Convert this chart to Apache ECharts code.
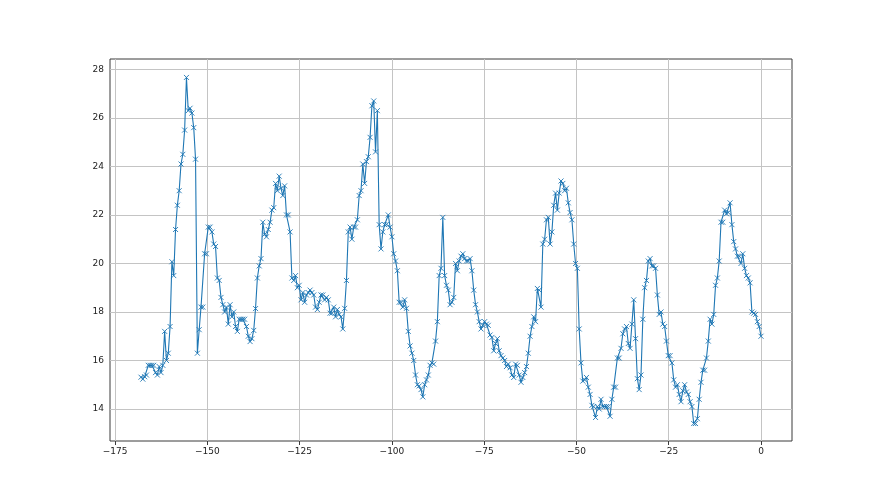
<!DOCTYPE html>
<html>
<head>
<meta charset="utf-8">
<script src="https://cdn.jsdelivr.net/npm/echarts@6/dist/echarts.min.js"></script>
<style>
html,body{margin:0;padding:0;background:#ffffff;}
#chart{width:880px;height:495px;}
</style>
</head>
<body>
<div id="chart"></div>
<script>
// Readings (hours relative to now, from -168 to 0)
const readingsA = [15.31, 15.23, 15.33, 15.4, 15.8, 15.8, 15.8, 15.8, 15.5, 15.4, 15.75, 15.5, 15.8, 17.2, 16.0, 16.3, 17.4, 20.07, 19.5, 21.4, 22.4, 23.0, 24.1, 24.5, 25.5, 27.67, 26.3, 26.4, 26.2, 25.6, 24.3, 16.3, 17.27, 18.2, 18.2, 20.4, 20.4, 21.5, 21.5, 21.3, 20.8, 20.7, 19.4, 19.3, 18.6, 18.3, 18.0, 18.2, 17.5, 18.3, 17.8, 18.0, 17.4, 17.2, 17.7, 17.7, 17.7];
const readingsB = [17.70, 17.4, 17.0, 16.78, 16.9, 17.24, 18.14, 19.4, 19.9, 20.2, 21.7, 21.2, 21.1, 21.4, 21.7, 22.2, 22.3, 23.3, 23.0, 23.6, 23.1, 22.8, 23.2, 22.0, 22.0, 21.3, 19.4, 19.3, 19.5, 19.0, 19.1, 18.5, 18.8, 18.4, 18.7, 18.8, 18.9, 18.8, 18.7, 18.2, 18.1, 18.4, 18.7, 18.7, 18.5, 18.6, 18.5, 17.95, 17.95, 18.2, 17.8, 18.1, 17.9, 17.8, 17.3, 18.15, 19.3, 21.3, 21.5, 21.0, 21.5, 21.5, 21.8, 22.8, 23.0, 24.1];
const readingsC = [23.3, 24.2, 24.4, 25.2, 26.5, 26.7, 24.6, 26.3, 21.6, 20.6, 21.3, 21.6, 21.6, 22.0, 21.5, 21.1, 20.4, 20.1, 19.7, 18.4, 18.4, 18.2, 18.5, 18.15, 17.2, 16.6, 16.3, 16.0, 15.4, 15.0, 14.95, 14.8, 14.5, 15.0, 15.2, 15.4, 15.8, 15.9, 15.85, 16.8, 17.6, 19.5, 19.8, 21.9, 19.5, 19.1, 18.9, 18.3, 18.4, 18.6, 20.0, 19.7, 20.1, 20.3, 20.4, 20.2, 20.1, 20.1, 20.2, 19.7, 18.9, 18.3, 18.0, 17.6];
const readingsD = [17.3, 17.45, 17.6, 17.5, 17.45, 17.05, 16.95, 16.4, 16.7, 16.9, 16.4, 16.2, 16.1, 16.0, 15.75, 15.85, 15.7, 15.4, 15.3, 15.85, 15.8, 15.4, 15.1, 15.3, 15.5, 15.75, 16.3, 17.0, 17.4, 17.8, 17.6, 18.97, 18.9, 18.2, 20.8, 21.0, 21.8, 21.9, 20.8, 21.3, 22.4, 22.9, 22.2, 22.9, 23.4, 23.3, 23.0, 23.1, 22.5, 22.1, 21.8, 20.8, 20.0, 19.8, 17.3, 15.9, 15.15, 15.2, 15.3, 14.9, 14.6, 14.15, 14.1, 13.65];
const readingsE = [14.1, 14.0, 14.4, 14.1, 14.1, 14.1, 14.1, 13.7, 14.4, 14.9, 14.9, 16.1, 16.1, 16.5, 17.1, 17.3, 17.4, 16.7, 16.5, 17.5, 18.5, 16.9, 15.25, 14.8, 15.4, 17.7, 19.0, 19.3, 20.1, 20.2, 19.9, 19.9, 19.8, 18.7, 17.9, 18.0, 17.5, 17.4, 16.8, 16.2, 16.2, 15.9, 15.2, 14.9, 15.0, 14.6, 14.3, 14.75, 15.0, 14.7, 14.6, 14.3, 14.1, 13.4, 13.4, 13.6, 14.4, 15.1, 15.6, 15.6, 16.1, 16.8, 17.7];
const readingsF = [17.5, 17.9, 19.1, 19.4, 20.1, 21.7, 21.7, 22.2, 22.05, 22.1, 22.5, 21.6, 20.9, 20.6, 20.3, 20.3, 20.0, 20.4, 19.8, 19.5, 19.4, 19.2, 18.0, 17.95, 17.9, 17.6, 17.4, 17.0];

const xTicks = [-175, -150, -125, -100, -75, -50, -25, 0];
const yTicks = [14, 16, 18, 20, 22, 24, 26, 28];
const firstHour = -168;
const lastHour = 0;

const values = [].concat(readingsA, readingsB, readingsC, readingsD, readingsE, readingsF);
const step = (lastHour - firstHour) / (values.length - 1);
const points = values.map((v, i) => [firstHour + i * step, v]);

const fmt = v => String(v).replace('-', '\u2212');
const gridColor = '#c4c4c4';
const lineColor = '#1f77b4';

const chart = echarts.init(document.getElementById('chart'), null, {renderer: 'canvas'});
chart.setOption({
  animation: false,
  backgroundColor: '#ffffff',
  grid: {
    left: 110, top: 59, width: 682, height: 382,
    show: true, borderColor: '#3a3a3a', borderWidth: 1, backgroundColor: 'transparent'
  },
  xAxis: {
    type: 'value', min: -176.4, max: 8.4,
    axisLine: {show: false},
    splitLine: {show: false},
    axisTick: {show: true, customValues: xTicks, length: 4, inside: false, lineStyle: {color: '#3a3a3a', width: 1}},
    axisLabel: {customValues: xTicks, formatter: fmt, margin: 6, color: '#222', fontSize: 9, fontFamily: 'DejaVu Sans'}
  },
  yAxis: {
    type: 'value', min: 12.68, max: 28.43,
    axisLine: {show: false},
    splitLine: {show: false},
    axisTick: {show: true, customValues: yTicks, length: 4, inside: false, lineStyle: {color: '#3a3a3a', width: 1}},
    axisLabel: {customValues: yTicks, formatter: fmt, margin: 6, color: '#222', fontSize: 9, fontFamily: 'DejaVu Sans'}
  },
  series: [
    {
      type: 'line', data: [], z: 1, silent: true,
      markLine: {
        silent: true, symbol: 'none', z: 1, animation: false,
        label: {show: false},
        lineStyle: {color: gridColor, width: 1, type: 'solid'},
        data: xTicks.map(v => ({xAxis: v})).concat(yTicks.map(v => ({yAxis: v})))
      }
    },
    {
      type: 'line', data: points, z: 3,
      showSymbol: true, showAllSymbol: true,
      symbol: 'path://M0,0L10,10M10,0L0,10', symbolSize: 5,
      itemStyle: {color: lineColor, borderColor: lineColor, borderWidth: 0.9},
      lineStyle: {color: lineColor, width: 1.1},
      emphasis: {disabled: true}
    }
  ]
});
</script>
</body>
</html>
